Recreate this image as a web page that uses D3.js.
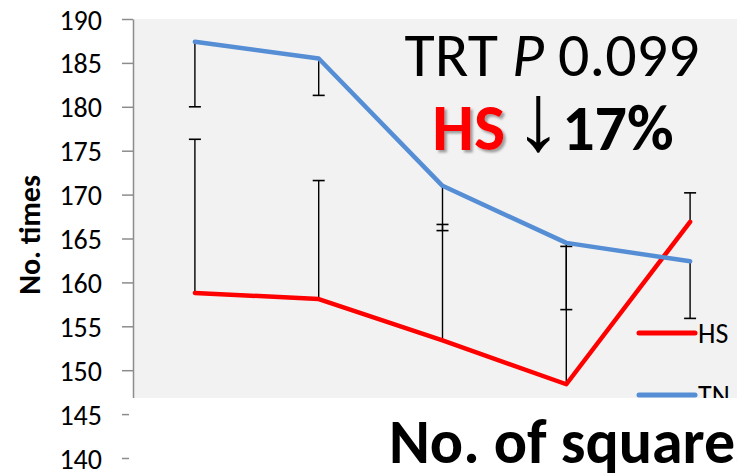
<!DOCTYPE html>
<html>
<head>
<meta charset="utf-8">
<script src="https://cdn.jsdelivr.net/npm/d3@7"></script>
<style>
  body { margin: 0; background: #fff; }
  svg { display: block; font-family: Carlito, Calibri, Lato, sans-serif; }
</style>
</head>
<body>
<div id="chart"></div>
<script>
// data
const categories = ["1", "2", "3", "4", "5"]
const hsValues = [158.8, 158.1, 153.4, 148.4, 166.9]
const tnValues = [187.4, 185.5, 171.0, 164.5, 162.4]
const hsErrUp = [17.5, 13.5, 13.2, 15.7, 3.3]
const tnErrDown = [7.4, 4.2, 5.1, 7.6, 6.5]
const yTicks = [140, 145, 150, 155, 160, 165, 170, 175, 180, 185, 190]

const W = 737, H = 474
const plot = { left: 133, right: 752, top: 19, bottom: 458 }

const svg = d3.select("#chart").append("svg")
    .attr("width", W)
    .attr("height", H)

const x = d3.scaleBand()
    .domain(categories)
    .range([plot.left, plot.right])
    .padding(0)

const y = d3.scaleLinear()
    .domain([140, 190])
    .range([plot.bottom, plot.top])

const cx = d => x(d) + x.bandwidth() / 2

// shadow for the red HS
const defs = svg.append("defs")
defs.append("filter").attr("id", "shadow")
    .attr("x", "-20%").attr("y", "-20%").attr("width", "150%").attr("height", "150%")
    .append("feDropShadow")
    .attr("dx", 2.5).attr("dy", 2.5).attr("stdDeviation", 1.2)
    .attr("flood-color", "#666").attr("flood-opacity", 0.6)

// plot background
svg.append("rect")
    .attr("x", plot.left + 1)
    .attr("y", plot.top)
    .attr("width", plot.right - plot.left)
    .attr("height", plot.bottom - plot.top)
    .attr("fill", "#f2f2f2")

// y axis
const yAxis = svg.append("g")
    .attr("transform", `translate(${plot.left},0)`)
    .call(d3.axisLeft(y).tickValues(yTicks).tickSize(11).tickPadding(20).tickSizeOuter(0))
yAxis.select(".domain").attr("stroke", "#8c8c8c").attr("stroke-width", 1.5)
yAxis.selectAll(".tick line").attr("stroke", "#8c8c8c").attr("stroke-width", 1.5)
yAxis.selectAll(".tick text")
    .attr("fill", "#000")
    .attr("font-family", "Carlito, Calibri, Lato, sans-serif")
    .attr("font-size", 28)
    .attr("dy", "0.36em")

// y title
svg.append("text")
    .attr("transform", "translate(40,235) rotate(-90)")
    .attr("text-anchor", "middle")
    .attr("font-weight", "bold")
    .attr("font-size", 30)
    .text("No. times")

// error bars: HS upward, TN downward
const errData = categories.flatMap((c, i) => [
    { c, from: hsValues[i], to: hsValues[i] + hsErrUp[i] },
    { c, from: tnValues[i], to: tnValues[i] - tnErrDown[i] }
])
const eb = svg.append("g").selectAll("g.err")
    .data(errData)
    .join("g")
    .attr("class", "err")
eb.append("line")
    .attr("x1", d => cx(d.c)).attr("x2", d => cx(d.c))
    .attr("y1", d => y(d.from)).attr("y2", d => y(d.to))
    .attr("stroke", "#000").attr("stroke-width", 1.4)
eb.append("line")
    .attr("x1", d => cx(d.c) - 6).attr("x2", d => cx(d.c) + 6)
    .attr("y1", d => y(d.to)).attr("y2", d => y(d.to))
    .attr("stroke", "#000").attr("stroke-width", 1.6)

// lines
const series = [
    { key: "HS", values: hsValues, color: "#ff0000" },
    { key: "TN", values: tnValues, color: "#558ed5" }
]
const line = d3.line()
    .x((d, i) => cx(categories[i]))
    .y(d => y(d))

svg.append("g").selectAll("path.curve")
    .data(series)
    .join("path")
    .attr("class", "curve")
    .attr("d", d => line(d.values))
    .attr("fill", "none")
    .attr("stroke", d => d.color)
    .attr("stroke-width", 4.5)
    .attr("stroke-linejoin", "round")
    .attr("stroke-linecap", "round")

// legend
const legend = svg.append("g").selectAll("g.leg")
    .data(series)
    .join("g")
    .attr("class", "leg")
    .attr("transform", (d, i) => `translate(639,${333 + i * 62})`)
legend.append("line")
    .attr("x1", 0).attr("x2", 56)
    .attr("stroke", d => d.color)
    .attr("stroke-width", 5)
    .attr("stroke-linecap", "round")
legend.append("text")
    .attr("x", 59)
    .attr("dy", "0.36em")
    .attr("font-size", 28)
    .text(d => d.key)

// annotation
const note = svg.append("g")
note.append("text")
    .attr("x", 552).attr("y", 76)
    .attr("text-anchor", "middle")
    .attr("font-size", 62)
    .call(t => {
        t.append("tspan").text("TRT ")
        t.append("tspan").attr("font-style", "italic").text("P")
        t.append("tspan").text(" 0.099")
    })
const l2 = note.append("text")
    .attr("x", 553).attr("y", 150)
    .attr("text-anchor", "middle")
    .attr("font-size", 64)
    .attr("font-weight", 900)
l2.append("tspan").attr("fill", "#ff0000").attr("filter", "url(#shadow)").attr("font-size", 66).text("HS")
l2.append("tspan").attr("font-weight", "bold").attr("font-size", 40).text(" ")
l2.append("tspan")
    .attr("font-family", "'Liberation Sans', sans-serif")
    .attr("font-weight", "normal")
    .attr("font-size", 96)
    .text("\u2193")
l2.append("tspan").attr("font-weight", "bold").text("17%")

// text box covering the bottom of the chart
svg.append("rect")
    .attr("x", 129).attr("y", 398)
    .attr("width", W - 129).attr("height", H - 398)
    .attr("fill", "#fff")
svg.append("text")
    .attr("x", 389).attr("y", 463)
    .attr("font-size", 62)
    .attr("font-weight", "bold")
    .text("No. of squares")
</script>
</body>
</html>
